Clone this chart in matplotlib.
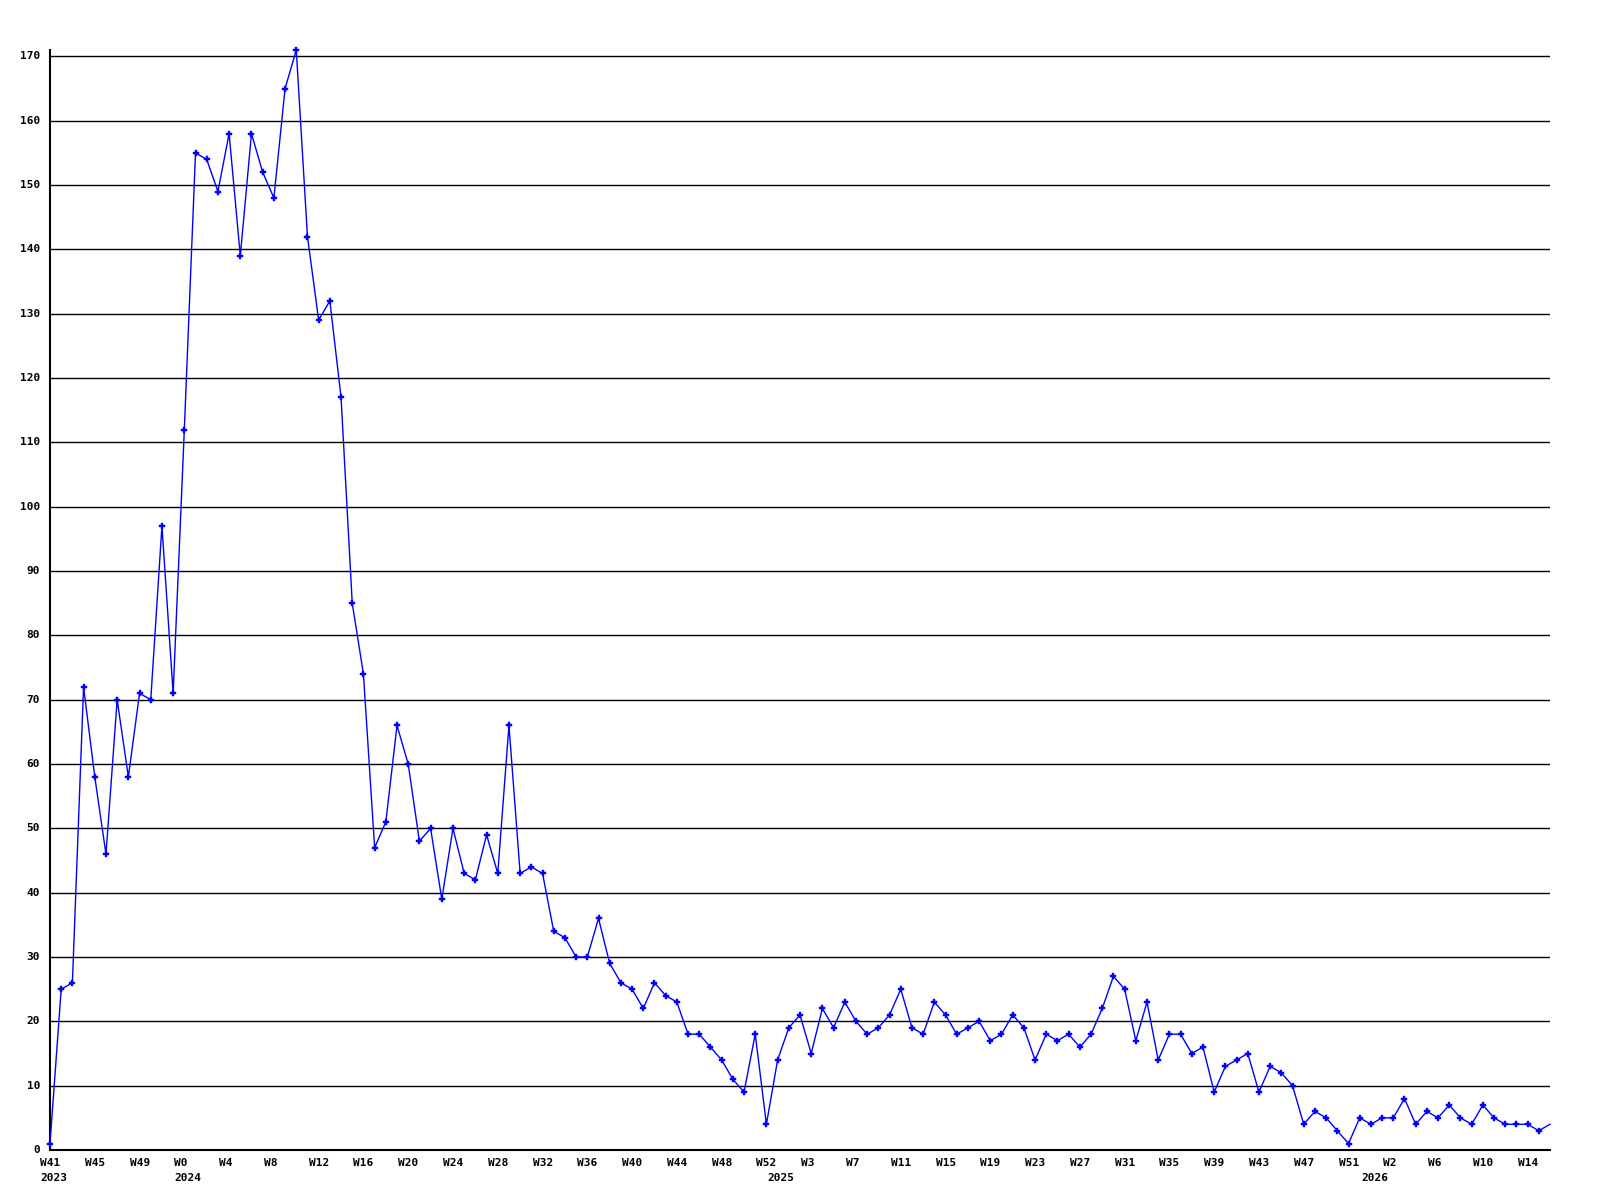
import matplotlib
matplotlib.use("Agg")
import matplotlib.pyplot as plt
import matplotlib.transforms as mtransforms

values = [1, 25, 26, 72, 58, 46, 70, 58, 71, 70,
          97, 71, 112, 155, 154, 149, 158, 139, 158, 152,
          148, 165, 171, 142, 129, 132, 117, 85, 74, 47,
          51, 66, 60, 48, 50, 39, 50, 43, 42, 49,
          43, 66, 43, 44, 43, 34, 33, 30, 30, 36,
          29, 26, 25, 22, 26, 24, 23, 18, 18, 16,
          14, 11, 9, 18, 4, 14, 19, 21, 15, 22,
          19, 23, 20, 18, 19, 21, 25, 19, 18, 23,
          21, 18, 19, 20, 17, 18, 21, 19, 14, 18,
          17, 18, 16, 18, 22, 27, 25, 17, 23, 14,
          18, 18, 15, 16, 9, 13, 14, 15, 9, 13,
          12, 10, 4, 6, 5, 3, 1, 5, 4, 5,
          5, 8, 4, 6, 5, 7, 5, 4, 7, 5,
          4, 4, 4, 3, 4]

week_labels = ["W41", "W45", "W49", "W0", "W4", "W8", "W12", "W16", "W20", "W24",
               "W28", "W32", "W36", "W40", "W44", "W48", "W52", "W3", "W7", "W11",
               "W15", "W19", "W23", "W27", "W31", "W35", "W39", "W43", "W47", "W51",
               "W2", "W6", "W10", "W14"]
week_label_step = 4

year_labels = ["2023", "2024", "2025", "2026"]
year_label_index = [0, 12, 65, 118]

y_ticks = list(range(0, 171, 10))

fig = plt.figure(figsize=(16, 12), dpi=100)
ax = fig.add_axes([50 / 1600, 50 / 1200, 1500 / 1600, 1100 / 1200])

x = list(range(len(values)))
ax.set_xlim(0, len(values) - 1)
ax.set_ylim(0, 171)

for yt in y_ticks:
    ax.axhline(yt, color="black", lw=1.0, zorder=1)

ax.plot(x, values, color="#0000ff", lw=1.0, marker="P", markersize=5,
        markeredgewidth=0.3, markevery=list(range(len(values) - 1)), zorder=3,
        clip_on=False)

for side in ["top", "right"]:
    ax.spines[side].set_visible(False)
ax.spines["left"].set_linewidth(1.5)
ax.spines["bottom"].set_linewidth(1.5)
ax.set_xticks([])
ax.set_yticks([])

font = dict(family="DejaVu Sans Mono", fontweight="bold", fontsize=8, color="black")

# y labels
ylab_tr = ax.get_yaxis_transform() + mtransforms.ScaledTranslation(-10 / 100, 0, fig.dpi_scale_trans)
for yt in y_ticks:
    ax.text(0, yt, str(yt), transform=ylab_tr, ha="right", va="center", **font)

# week labels
wk_tr = ax.get_xaxis_transform() + mtransforms.ScaledTranslation(-10 / 100, -8 / 100, fig.dpi_scale_trans)
for i, lab in enumerate(week_labels):
    ax.text(i * week_label_step, 0, lab, transform=wk_tr, ha="left", va="top", **font)

# year labels
yr_tr = ax.get_xaxis_transform() + mtransforms.ScaledTranslation(-10 / 100, -23 / 100, fig.dpi_scale_trans)
for lab, idx in zip(year_labels, year_label_index):
    ax.text(idx, 0, lab, transform=yr_tr, ha="left", va="top", **font)

fig.savefig("out.png", dpi=100, facecolor="white")
